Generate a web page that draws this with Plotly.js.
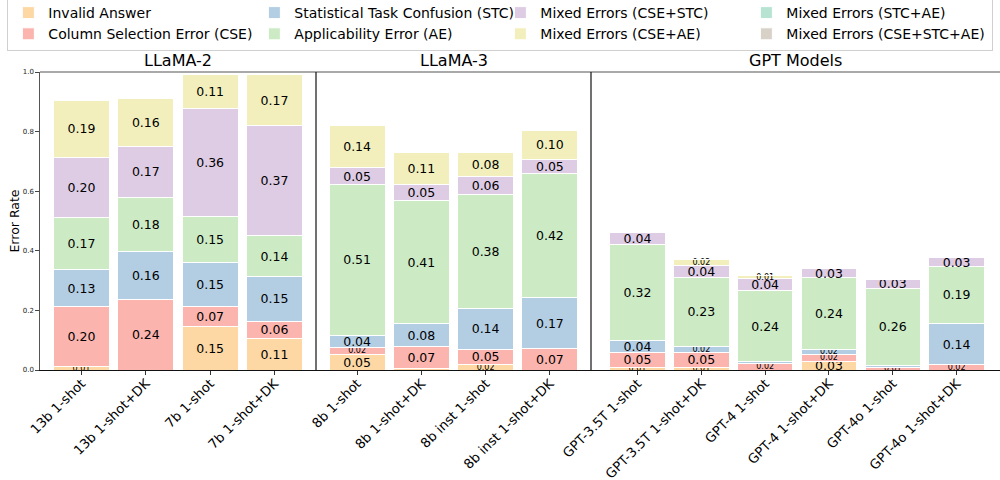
<!DOCTYPE html>
<html><head><meta charset="utf-8">
<script src="https://cdn.plot.ly/plotly-3.0.1.min.js"></script>
<style>html,body{margin:0;padding:0;background:#fff;overflow:hidden}</style>
</head><body><div id="chart" style="width:1000px;height:480px"></div>
<script>
// ---- categories ----
const llama2Models = ['13b 1-shot', '13b 1-shot+DK', '7b 1-shot', '7b 1-shot+DK'];
const llama3Models = ['8b 1-shot', '8b 1-shot+DK', '8b inst 1-shot', '8b inst 1-shot+DK'];
const gptModels = ['GPT-3.5T 1-shot', 'GPT-3.5T 1-shot+DK', 'GPT-4 1-shot', 'GPT-4 1-shot+DK', 'GPT-4o 1-shot', 'GPT-4o 1-shot+DK'];
const groupTitles = ['LLaMA-2', 'LLaMA-3', 'GPT Models'];
const errorTypes = ['Invalid Answer', 'Column Selection Error (CSE)', 'Statistical Task Confusion (STC)',
  'Applicability Error (AE)', 'Mixed Errors (CSE+STC)', 'Mixed Errors (CSE+AE)',
  'Mixed Errors (STC+AE)', 'Mixed Errors (CSE+STC+AE)'];
const errorColors = ['#fdd8a5', '#fbb4ae', '#b3cde3', '#ccebc5', '#decbe4', '#f2efbc', '#b6e3d2', '#d7d1c8'];
const legendRanks = [1, 5, 2, 6, 3, 7, 4, 8];

// ---- values (error rate), one array per error type, per model group ----
const llama2Invalid = [0.013, 0.000, 0.146, 0.106];
const llama2CSE     = [0.199, 0.237, 0.068, 0.058];
const llama2STC     = [0.126, 0.160, 0.148, 0.149];
const llama2AE      = [0.174, 0.182, 0.153, 0.139];
const llama2CseStc  = [0.202, 0.172, 0.364, 0.368];
const llama2CseAe   = [0.190, 0.160, 0.111, 0.172];
const llama2StcAe   = [0, 0, 0, 0];
const llama2CseStcAe= [0, 0, 0, 0];

const llama3Invalid = [0.053, 0.006, 0.018, 0.000];
const llama3CSE     = [0.023, 0.072, 0.052, 0.072];
const llama3STC     = [0.040, 0.077, 0.137, 0.171];
const llama3AE      = [0.508, 0.413, 0.383, 0.417];
const llama3CseStc  = [0.054, 0.054, 0.060, 0.047];
const llama3CseAe   = [0.141, 0.109, 0.079, 0.097];
const llama3StcAe   = [0, 0, 0, 0];
const llama3CseStcAe= [0, 0, 0, 0];

const gptInvalid    = [0.010, 0.010, 0.000, 0.030, 0.000, 0.000];
const gptCSE        = [0.050, 0.050, 0.022, 0.022, 0.010, 0.017];
const gptSTC        = [0.040, 0.020, 0.005, 0.017, 0.005, 0.140];
const gptAE         = [0.320, 0.230, 0.240, 0.240, 0.260, 0.190];
const gptCseStc     = [0.040, 0.040, 0.040, 0.030, 0.030, 0.030];
const gptCseAe      = [0.000, 0.020, 0.010, 0.005, 0.000, 0.004];
const gptStcAe      = [0, 0, 0, 0, 0, 0];
const gptCseStcAe   = [0, 0, 0, 0, 0, 0];

const groups = [
  {models: llama2Models, series: [llama2Invalid, llama2CSE, llama2STC, llama2AE, llama2CseStc, llama2CseAe, llama2StcAe, llama2CseStcAe]},
  {models: llama3Models, series: [llama3Invalid, llama3CSE, llama3STC, llama3AE, llama3CseStc, llama3CseAe, llama3StcAe, llama3CseStcAe]},
  {models: gptModels,    series: [gptInvalid, gptCSE, gptSTC, gptAE, gptCseStc, gptCseAe, gptStcAe, gptCseStcAe]}
];

const FONT = 'DejaVu Sans, Liberation Sans, sans-serif';
const axisIds = ['x', 'x2', 'x3'];
const traces = [];
groups.forEach((g, gi) => {
  g.series.forEach((vals, ei) => {
    traces.push({
      type: 'bar',
      name: errorTypes[ei],
      x: g.models,
      y: vals,
      xaxis: axisIds[gi],
      yaxis: 'y',
      width: 0.87,
      marker: {color: errorColors[ei], line: {color: '#ffffff', width: 1}},
      text: vals.map(v => v >= 0.0095 ? v.toFixed(2) : ''),
      textposition: 'inside',
      insidetextanchor: 'middle',
      textangle: 0,
      constraintext: 'none',
      cliponaxis: false,
      textfont: {family: FONT, color: '#000', size: vals.map(v => v >= 0.028 ? 12.5 : 8)},
      showlegend: gi === 0,
      legendrank: legendRanks[ei],
      hoverinfo: 'x+y+name'
    });
  });
});

const plotL = 40, plotR = 1000;
const W = plotR - plotL;
const d1 = (316 - plotL) / W, d2 = (591 - plotL) / W;
const domains = [[0, d1], [d1, d2], [d2, 1]];
const ranges = [[-0.645, 3.645], [-0.64, 3.64], [-0.729, 5.68]];

const layout = {
  width: 1000, height: 480,
  margin: {l: plotL, r: 1000 - plotR, t: 72, b: 110, pad: 0, autoexpand: false},
  paper_bgcolor: '#fff', plot_bgcolor: '#fff',
  font: {family: FONT, color: '#000'},
  barmode: 'stack',
  showlegend: true,
  legend: {
    orientation: 'h', x: -0.034, xanchor: 'left', y: 1.255, yanchor: 'top',
    entrywidth: 201, entrywidthmode: 'pixels',
    font: {size: 14, family: FONT, color: '#000'},
    bordercolor: '#d0d0d0', borderwidth: 1, bgcolor: '#fff',
    traceorder: 'normal'
  },
  yaxis: {
    range: [0, 1], tickvals: [0, 0.2, 0.4, 0.6, 0.8, 1.0], tickformat: '.1f',
    ticks: 'outside', ticklen: 3.5, tickcolor: '#444', tickwidth: 1,
    tickfont: {size: 7, color: '#222'},
    showline: true, linecolor: '#555', linewidth: 1.2,
    showgrid: false, zeroline: false,
    title: {text: 'Error Rate', font: {size: 12.5, color: '#000'}, standoff: 0}
  },
  shapes: [
    {type: 'line', xref: 'paper', yref: 'paper', x0: 0, x1: 1, y0: 1, y1: 1, line: {color: '#555', width: 1.2}},
    {type: 'line', xref: 'paper', yref: 'paper', x0: d1, x1: d1, y0: 0, y1: 1, line: {color: '#111', width: 1.2}},
    {type: 'line', xref: 'paper', yref: 'paper', x0: d2, x1: d2, y0: 0, y1: 1, line: {color: '#111', width: 1.2}}
  ],
  annotations: groupTitles.map((t, i) => ({
    text: t, xref: 'paper', yref: 'paper',
    x: (domains[i][0] + domains[i][1]) / 2, y: 1, xanchor: 'center', yanchor: 'bottom', yshift: 0,
    showarrow: false, font: {size: 16, color: '#000', family: FONT}
  }))
};
axisIds.forEach((id, i) => {
  const key = i === 0 ? 'xaxis' : 'xaxis' + (i + 1);
  layout[key] = {
    domain: domains[i], anchor: 'y', type: 'category', range: ranges[i],
    tickangle: -45, ticks: 'outside', ticklen: 3.5, tickcolor: '#333', tickwidth: 1,
    tickfont: {size: 13.2, color: '#000'}, ticklabelstandoff: -4,
    showline: true, linecolor: '#111', linewidth: 1.2,
    showgrid: false, zeroline: false, fixedrange: true
  };
});

Plotly.newPlot('chart', traces, layout, {displayModeBar: false, staticPlot: false});
</script></body></html>
